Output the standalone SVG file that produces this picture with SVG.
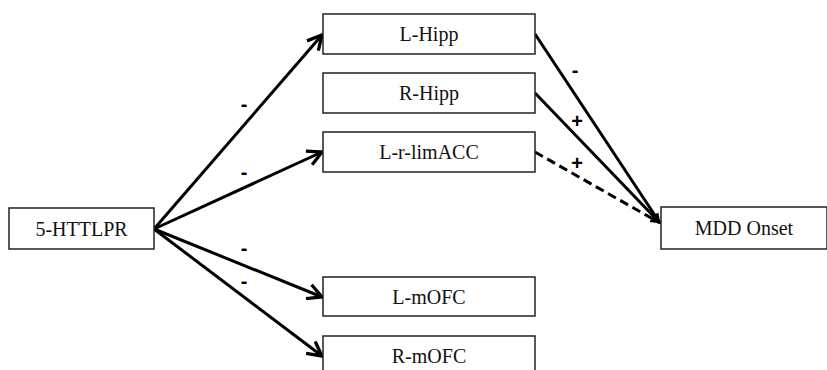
<svg xmlns="http://www.w3.org/2000/svg" width="827" height="370" viewBox="0 0 827 370">
<defs>
<style>
.box{fill:#fff;stroke:#222;stroke-width:1.5}
.t{font-family:"Liberation Serif",serif;font-size:20px;fill:#111;text-anchor:middle;dominant-baseline:central}
.lab{font-family:"Liberation Sans",sans-serif;font-size:20px;fill:#000;text-anchor:middle;font-weight:bold}
.c{stroke:#000;stroke-width:3;fill:none}
.d{stroke-dasharray:9,5}
</style>
<marker id="open" viewBox="0 0 12 12" refX="10.5" refY="6" markerWidth="6" markerHeight="6" markerUnits="strokeWidth" orient="auto">
<path d="M1,1 L10.5,6 L1,11" fill="none" stroke="#000" stroke-width="2.2"/>
</marker>
<marker id="fill" viewBox="0 0 12 12" refX="11" refY="6" markerWidth="3.5" markerHeight="3.5" markerUnits="strokeWidth" orient="auto">
<path d="M0,1 L12,6 L0,11 Z" fill="#000"/>
</marker>
</defs>
<g id="connectors">
<line class="c" x1="154" y1="229" x2="322" y2="35" marker-end="url(#open)"/>
<line class="c" x1="154" y1="229" x2="322" y2="152" marker-end="url(#open)"/>
<line class="c" x1="154" y1="229" x2="322" y2="297" marker-end="url(#open)"/>
<line class="c" x1="154" y1="229" x2="322" y2="356" marker-end="url(#open)"/>
<line class="c" x1="535" y1="34" x2="660" y2="223" marker-end="url(#fill)"/>
<line class="c" x1="535" y1="93" x2="660" y2="223" marker-end="url(#fill)"/>
<line class="c d" x1="535" y1="152" x2="660" y2="223" marker-end="url(#fill)"/>
<text class="lab" x="244" y="111">-</text>
<text class="lab" x="244" y="179">-</text>
<text class="lab" x="244" y="255">-</text>
<text class="lab" x="244" y="288">-</text>
<text class="lab" x="575" y="77">-</text>
<text class="lab" x="577" y="128">+</text>
<text class="lab" x="577" y="170">+</text>
</g>
<g id="n5httlpr"><rect class="box" x="9" y="208" width="145" height="41"/><text class="t" x="81.5" y="229">5-HTTLPR</text></g>
<g id="lhipp"><rect class="box" x="323" y="14" width="212" height="40"/><text class="t" x="429" y="34">L-Hipp</text></g>
<g id="rhipp"><rect class="box" x="323" y="73" width="212" height="40"/><text class="t" x="429" y="93">R-Hipp</text></g>
<g id="lrlimacc"><rect class="box" x="323" y="132" width="212" height="40"/><text class="t" x="429" y="152">L-r-limACC</text></g>
<g id="lmofc"><rect class="box" x="323" y="277" width="212" height="39"/><text class="t" x="429" y="296.5">L-mOFC</text></g>
<g id="rmofc"><rect class="box" x="323" y="336" width="212" height="40"/><text class="t" x="429" y="356">R-mOFC</text></g>
<g id="mdd"><rect class="box" x="661" y="207" width="166" height="42"/><text class="t" x="744" y="228">MDD Onset</text></g>
</svg>
